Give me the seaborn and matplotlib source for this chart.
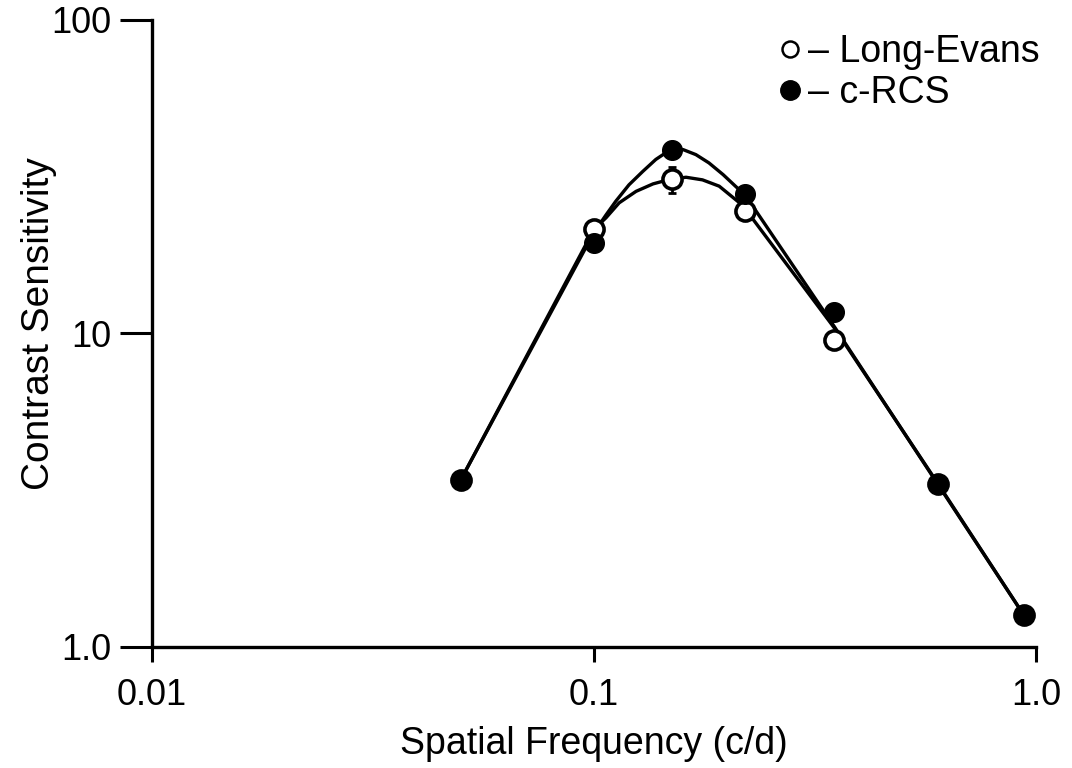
import matplotlib
matplotlib.use("Agg")
import matplotlib.pyplot as plt
from matplotlib.lines import Line2D
import seaborn as sns
import pandas as pd

# Valores
freq = [0.05, 0.1, 0.15, 0.22, 0.35, 0.6, 0.94]
sens_le = [3.42, 21.5, 31.0, 24.5, 9.5, 3.30, 1.26]      # Long-Evans (círculo aberto)
sens_rcs = [3.42, 19.4, 38.4, 27.9, 11.7, 3.30, 1.26]    # c-RCS (círculo cheio)
erro_le = [0, 0, 3.0, 0, 0, 0, 0]

# Curvas ajustadas, lidas ponto a ponto da figura
fit_freq_le = [0.05, 0.1, 0.1065, 0.114, 0.1245, 0.136, 0.147, 0.1615, 0.176,
               0.192, 0.21, 0.217, 0.35, 0.6, 0.94]
fit_le = [3.42, 21.5, 23.4, 26.1, 28.4, 30.0, 30.9, 31.5, 30.9,
          29.5, 26.6, 25.6, 10.4, 3.32, 1.26]
fit_freq_rcs = [0.05, 0.1, 0.1065, 0.112, 0.12, 0.129, 0.138, 0.147, 0.159,
                0.17, 0.182, 0.196, 0.21, 0.22, 0.35, 0.6, 0.94]
fit_rcs = [3.42, 21.0, 23.9, 26.4, 29.8, 32.9, 35.9, 38.1, 38.6,
           37.2, 35.0, 32.1, 29.3, 27.6, 10.5, 3.30, 1.26]

sns.set_style("ticks", {'axes.edgecolor': 'black', 'text.color': 'black',
                        'xtick.color': 'black', 'ytick.color': 'black',
                        'axes.labelcolor': 'black'})
plt.rcParams['font.family'] = ['Liberation Sans', 'DejaVu Sans']

fig = plt.figure(figsize=(10.72, 7.68), dpi=100)
ax = fig.add_axes([0.1418, 0.1576, 0.8246, 0.8164])

df_fit = pd.DataFrame({'x': fit_freq_le + fit_freq_rcs,
                       'y': fit_le + fit_rcs,
                       'grupo': ['le'] * len(fit_le) + ['rcs'] * len(fit_rcs)})
sns.lineplot(data=df_fit, x='x', y='y', units='grupo', estimator=None,
             color='black', linewidth=2.4, sort=False, ax=ax)

ax.errorbar(freq, sens_le, yerr=erro_le, fmt='none', ecolor='black',
            elinewidth=2.0, capsize=3, capthick=2.0, zorder=3)
sns.scatterplot(x=freq, y=sens_le, s=190, facecolor='white', edgecolor='black',
                linewidth=2.6, zorder=4, ax=ax)
sns.scatterplot(x=freq, y=sens_rcs, s=200, color='black', edgecolor='black',
                linewidth=1, zorder=5, ax=ax)

ax.set_xscale('log')
ax.set_yscale('log')
ax.set_xlim(0.01, 1.0)
ax.set_ylim(1.0, 100)
ax.set_xticks([0.01, 0.1, 1.0])
ax.set_xticklabels(['0.01', '0.1', '1.0'])
ax.set_yticks([1, 10, 100])
ax.set_yticklabels(['1.0', '10', '100'])
ax.minorticks_off()

sns.despine(ax=ax)
for s in ['left', 'bottom']:
    ax.spines[s].set_linewidth(2.4)
ax.tick_params(axis='y', length=23, width=2.2, pad=6, labelsize=26)
ax.tick_params(axis='x', length=11, width=2.2, pad=11, labelsize=26)

ax.set_xlabel('Spatial Frequency (c/d)', fontsize=27, labelpad=10)
ax.set_ylabel('Contrast Sensitivity', fontsize=28)
ax.yaxis.set_label_coords(-0.108, 0.515)

handles = [Line2D([], [], linestyle='none', marker='o', markersize=11.5,
                  markerfacecolor='white', markeredgecolor='black', markeredgewidth=1.8),
           Line2D([], [], linestyle='none', marker='o', markersize=14,
                  markerfacecolor='black', markeredgecolor='black')]
ax.legend(handles, ['– Long-Evans', '– c-RCS'], loc='upper right',
          bbox_to_anchor=(1.03, 1.014), frameon=False, fontsize=27,
          handletextpad=0.0, handlelength=1.0, labelspacing=0.15, borderaxespad=0.2)

fig.savefig('out.png', dpi=100)
